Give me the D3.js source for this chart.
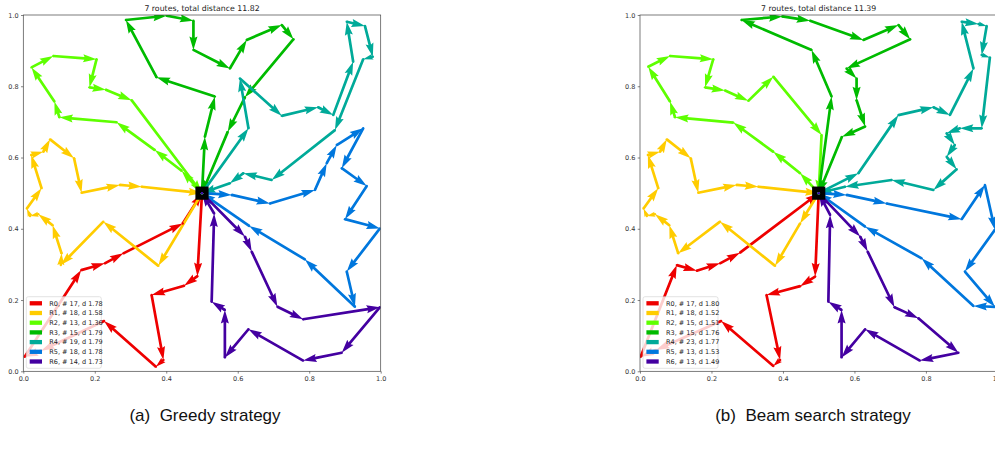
<!DOCTYPE html>
<html>
<head>
<meta charset="utf-8">
<script src="https://cdn.jsdelivr.net/npm/d3@7"></script>
<style>
  body { margin: 0; background: #fff; }
  text { font-family: 'DejaVu Sans', sans-serif; }
</style>
</head>
<body>
<svg id="chart" width="995" height="459"></svg>
<script>
// depot and tick values
var depot = [0.5, 0.5];
var tickValues = [0, 0.2, 0.4, 0.6, 0.8, 1.0];
var routeNames = ['R0', 'R1', 'R2', 'R3', 'R4', 'R5', 'R6'];

// (a) greedy: legend numbers
var greedyCounts = [17, 18, 13, 15, 19, 18, 14];
var greedyDists = [1.78, 1.58, 1.36, 1.79, 1.79, 1.78, 1.73];
var greedyTotal = 11.82;

// (b) beam search: legend numbers
var beamCounts = [17, 18, 15, 15, 23, 13, 13];
var beamDists = [1.80, 1.52, 1.51, 1.76, 1.77, 1.53, 1.49];
var beamTotal = 11.39;

// customer visits per route, (a) greedy
var greedyR0 = [[0.487, 0.267], [0.450, 0.240], [0.359, 0.214], [0.392, 0.032], [0.371, 0.013], [0.226, 0.141], [0.050, 0.058], [0.004, 0.041], [0.162, 0.284], [0.228, 0.303], [0.280, 0.331], [0.446, 0.415]];
var greedyR1 = [[0.378, 0.296], [0.224, 0.420], [0.105, 0.298], [0.107, 0.331], [0.082, 0.410], [0.042, 0.441], [0.019, 0.436], [0.010, 0.457], [0.051, 0.514], [0.022, 0.607], [0.056, 0.616], [0.075, 0.651], [0.142, 0.598], [0.163, 0.501], [0.270, 0.523], [0.331, 0.518]];
var greedyR2 = [[0.443, 0.563], [0.368, 0.621], [0.261, 0.699], [0.101, 0.713], [0.087, 0.757], [0.023, 0.853], [0.084, 0.885], [0.205, 0.876], [0.185, 0.797], [0.231, 0.790], [0.303, 0.761]];
var greedyR3 = [[0.508, 0.658], [0.536, 0.771], [0.373, 0.825], [0.287, 0.986], [0.401, 0.998], [0.476, 0.984], [0.476, 0.902], [0.578, 0.850], [0.625, 0.930], [0.723, 0.972], [0.756, 0.932], [0.620, 0.769], [0.572, 0.672]];
var greedyR4 = [[0.630, 0.682], [0.606, 0.822], [0.723, 0.717], [0.825, 0.741], [0.867, 0.719], [0.923, 0.869], [0.905, 0.981], [0.956, 0.969], [0.978, 0.883], [0.951, 0.876], [0.872, 0.677], [0.695, 0.537], [0.616, 0.556], [0.578, 0.528]];
var greedyR5 = [[0.583, 0.495], [0.690, 0.471], [0.816, 0.509], [0.849, 0.584], [0.877, 0.635], [0.951, 0.682], [0.891, 0.570], [0.961, 0.520], [0.900, 0.427], [0.998, 0.401], [0.905, 0.280], [0.928, 0.181], [0.788, 0.314], [0.632, 0.408]];
var greedyR6 = [[0.620, 0.378], [0.639, 0.336], [0.711, 0.181], [0.783, 0.146], [0.998, 0.180], [0.891, 0.052], [0.783, 0.030], [0.630, 0.118], [0.564, 0.039], [0.564, 0.172], [0.527, 0.195], [0.534, 0.443]];

// customer visits per route, (b) beam search
var beamR0 = [[0.490, 0.266], [0.448, 0.239], [0.354, 0.214], [0.392, 0.032], [0.373, 0.015], [0.227, 0.141], [0.045, 0.060], [0.002, 0.041], [0.103, 0.298], [0.159, 0.282], [0.224, 0.303], [0.280, 0.333]];
var beamR1 = [[0.448, 0.415], [0.378, 0.296], [0.224, 0.420], [0.107, 0.331], [0.082, 0.410], [0.042, 0.441], [0.019, 0.436], [0.010, 0.457], [0.051, 0.514], [0.022, 0.607], [0.056, 0.616], [0.075, 0.651], [0.142, 0.598], [0.163, 0.501], [0.270, 0.523], [0.331, 0.518]];
var beamR2 = [[0.448, 0.556], [0.373, 0.616], [0.261, 0.698], [0.098, 0.713], [0.084, 0.757], [0.023, 0.855], [0.084, 0.885], [0.205, 0.876], [0.182, 0.797], [0.238, 0.788], [0.303, 0.759], [0.373, 0.827], [0.508, 0.663]];
var beamR3 = [[0.536, 0.771], [0.480, 0.902], [0.284, 0.986], [0.398, 0.996], [0.476, 0.984], [0.625, 0.930], [0.723, 0.972], [0.756, 0.932], [0.578, 0.850], [0.606, 0.822], [0.606, 0.761], [0.630, 0.687], [0.565, 0.658]];
var beamR4 = [[0.611, 0.556], [0.723, 0.719], [0.821, 0.741], [0.867, 0.719], [0.933, 0.850], [0.900, 0.981], [0.947, 0.975], [0.970, 0.969], [0.956, 0.888], [0.979, 0.881], [0.956, 0.682], [0.895, 0.682], [0.858, 0.668], [0.881, 0.635], [0.858, 0.602], [0.886, 0.567], [0.821, 0.509], [0.704, 0.537], [0.574, 0.518]];
var beamR5 = [[0.578, 0.495], [0.690, 0.471], [0.900, 0.427], [0.965, 0.523], [0.993, 0.397], [0.909, 0.280], [0.993, 0.181], [0.933, 0.183], [0.788, 0.317], [0.630, 0.406]];
var beamR6 = [[0.616, 0.378], [0.637, 0.336], [0.712, 0.180], [0.779, 0.149], [0.891, 0.052], [0.783, 0.030], [0.630, 0.118], [0.564, 0.039], [0.564, 0.172], [0.527, 0.195], [0.532, 0.439]];

// nipy_spectral picks, R0 .. R6
var routeColors = ['#ee0000', '#ffcc00', '#5eff00', '#00bb00', '#00aa99', '#0077dd', '#4400a1'];

var svg = d3.select('#chart');
svg.append('rect').attr('width', 995).attr('height', 459).attr('fill', '#fff');

var plotW = 357.4;
var plotH = 356.3;
var plotTop = 15;
var shaftW = 2.7;

// quiver-like arrow polygon from (x0,y0) to (x1,y1)
function arrowPath(x0, y0, x1, y1) {
  var dx = x1 - x0, dy = y1 - y0, len = Math.hypot(dx, dy);
  if (len === 0) return '';
  var w = shaftW, hl = 5 * w, hal = 4.5 * w, hw = 1.5 * w, sw = 0.5 * w;
  var local;
  if (len < hl) {
    var k = len / hl;
    local = [[0, -sw], [hl - hal, -sw], [0, -hw], [hl, 0], [0, hw], [hl - hal, sw], [0, sw]]
      .map(p => [p[0] * k, p[1] * k]);
  } else {
    local = [[0, -sw], [len - hal, -sw], [len - hl, -hw], [len, 0], [len - hl, hw], [len - hal, sw], [0, sw]];
  }
  var c = dx / len, s = dy / len;
  return 'M' + local.map(p => (x0 + p[0] * c - p[1] * s).toFixed(2) + ',' + (y0 + p[0] * s + p[1] * c).toFixed(2)).join('L') + 'Z';
}

function drawPanel(ox, routes, counts, dists, total, caption, captionX, id) {
  var g = svg.append('g').attr('transform', `translate(${ox}, ${plotTop})`);

  var x = d3.scaleLinear().domain([0, 1]).range([0, plotW]);
  var y = d3.scaleLinear().domain([0, 1]).range([plotH, 0]);

  g.append('clipPath').attr('id', id)
    .append('rect').attr('width', plotW).attr('height', plotH);

  var plot = g.append('g').attr('clip-path', `url(#${id})`);

  routes.forEach((r, i) => {
    var pts = [depot].concat(r, [depot]);
    plot.append('g')
      .selectAll('path')
      .data(d3.pairs(pts))
      .enter()
      .append('path')
      .attr('d', (p) => arrowPath(x(p[0][0]), y(p[0][1]), x(p[1][0]), y(p[1][1])))
      .attr('fill', routeColors[i]);
  });

  // depot marker
  plot.append('rect')
    .attr('x', x(depot[0]) - 6.6)
    .attr('y', y(depot[1]) - 6.6)
    .attr('width', 13.2)
    .attr('height', 13.2)
    .attr('fill', '#000');

  // customer dots (depot included, last route on top)
  routes.forEach((r, i) => {
    plot.append('g')
      .selectAll('circle')
      .data([depot].concat(r))
      .enter()
      .append('circle')
      .attr('cx', (d) => x(d[0]))
      .attr('cy', (d) => y(d[1]))
      .attr('r', 1.2)
      .attr('fill', routeColors[i]);
  });

  // axes
  var fmt = d3.format('.1f');
  var xAxis = g.append('g')
    .attr('transform', `translate(0, ${plotH})`)
    .call(d3.axisBottom(x).tickValues(tickValues).tickFormat(fmt).tickSize(2.3).tickPadding(2.3));
  var yAxis = g.append('g')
    .call(d3.axisLeft(y).tickValues(tickValues).tickFormat(fmt).tickSize(2.3).tickPadding(2.3));
  [xAxis, yAxis].forEach((a) => {
    a.select('.domain').remove();
    a.selectAll('line').attr('stroke', '#333').attr('stroke-width', 0.6);
    a.selectAll('text').attr('font-size', '6.5px').attr('fill', '#333')
      .style('font-family', "'DejaVu Sans', sans-serif");
  });

  g.append('rect')
    .attr('width', plotW)
    .attr('height', plotH)
    .attr('fill', 'none')
    .attr('stroke', '#444')
    .attr('stroke-width', 0.7);

  // title
  g.append('text')
    .attr('x', plotW / 2)
    .attr('y', -4)
    .attr('text-anchor', 'middle')
    .attr('font-size', '7.8px')
    .attr('fill', '#222')
    .text(`${routes.length} routes, total distance ${total.toFixed(2)}`);

  // legend
  var leg = g.append('g').attr('transform', 'translate(3, 281.7)');
  leg.append('rect')
    .attr('width', 75)
    .attr('height', 71.6)
    .attr('rx', 2)
    .attr('fill', '#fff')
    .attr('fill-opacity', 0.8)
    .attr('stroke', '#d0d0d0')
    .attr('stroke-width', 0.6);
  var rows = leg.selectAll('g.row')
    .data(routeNames)
    .enter()
    .append('g')
    .attr('class', 'row')
    .attr('transform', (d, i) => `translate(0, ${6.6 + i * 9.7})`);
  rows.append('rect')
    .attr('x', 3.4)
    .attr('y', -2.15)
    .attr('width', 12.3)
    .attr('height', 4.3)
    .attr('fill', (d, i) => routeColors[i]);
  rows.append('text')
    .attr('x', 23)
    .attr('dy', '0.35em')
    .attr('font-size', '6.5px')
    .attr('fill', '#222')
    .text((d, i) => `${d}, # ${counts[i]}, d ${dists[i].toFixed(2)}`);

  // caption under the panel
  svg.append('text')
    .attr('x', captionX)
    .attr('y', 421)
    .attr('text-anchor', 'middle')
    .attr('font-size', '17px')
    .attr('fill', '#111')
    .style('font-family', "'Liberation Sans', Arial, sans-serif")
    .style('white-space', 'pre')
    .text(caption);
}

drawPanel(23.3, [greedyR0, greedyR1, greedyR2, greedyR3, greedyR4, greedyR5, greedyR6],
  greedyCounts, greedyDists, greedyTotal, '(a)  Greedy strategy', 205, 'clipA');
drawPanel(640, [beamR0, beamR1, beamR2, beamR3, beamR4, beamR5, beamR6],
  beamCounts, beamDists, beamTotal, '(b)  Beam search strategy', 813, 'clipB');
</script>
</body>
</html>
